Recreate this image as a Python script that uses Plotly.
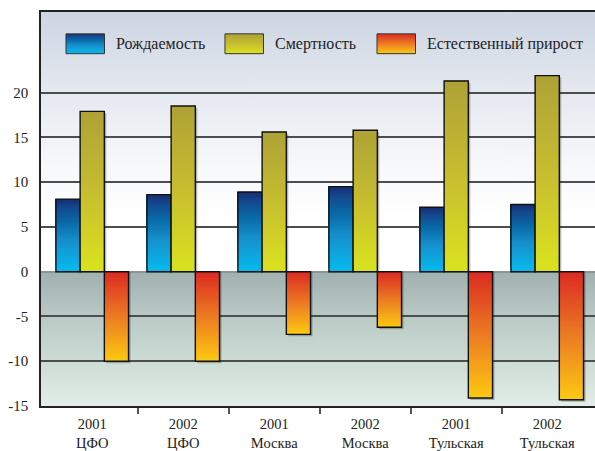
import base64
import plotly.graph_objects as go

# ---- data -------------------------------------------------------------
years = ["2001", "2002", "2001", "2002", "2001", "2002"]
regions = ["ЦФО", "ЦФО", "Москва", "Москва", "Тульская", "Тульская"]
series_names = ["Рождаемость", "Смертность", "Естественный прирост"]
births = [8.1, 8.6, 8.9, 9.5, 7.2, 7.5]
deaths = [17.9, 18.5, 15.6, 15.8, 21.3, 21.9]
natural_growth = [-10.0, -10.0, -7.0, -6.2, -14.1, -14.3]
y_ticks = [20, 15, 10, 5, 0, -5, -10, -15]
y_tick_text = ["20", "15", "10", "5", "0", "-5", "-10", "-15"]

# ---- styling ----------------------------------------------------------
FONT = "Liberation Serif"
N_SLICES = 70
BAR_W = 0.266
OFFSETS = [-0.266, 0.0, 0.266]
Y_RANGE = [-15, 29]
X_RANGE = [-0.563, 5.525]

# gradients: t=0 at the bar base (zero line), t=1 at the bar end
GRADIENTS = [
    [(0.0, "#05bcef"), (0.42, "#1690cc"), (0.68, "#0a6aa8"), (0.88, "#14498f"), (1.0, "#172e76")],
    [(0.0, "#dae31e"), (0.5, "#c7bd30"), (1.0, "#aea236")],
    [(0.0, "#dc2a22"), (0.5, "#ec7b22"), (1.0, "#fdc912")],
]


def hex_to_rgb(h):
    h = h.lstrip("#")
    return tuple(int(h[i:i + 2], 16) for i in (0, 2, 4))


def color_at(stops, t):
    for (t0, c0), (t1, c1) in zip(stops[:-1], stops[1:]):
        if t <= t1:
            f = 0 if t1 == t0 else (t - t0) / (t1 - t0)
            a, b = hex_to_rgb(c0), hex_to_rgb(c1)
            r = [round(a[i] + (b[i] - a[i]) * f) for i in range(3)]
            return "rgb(%d,%d,%d)" % tuple(r)
    return stops[-1][1]


def gradient_uri(stops):
    """Vertical gradient rectangle as an SVG data URI (offset 0 = top)."""
    parts = "".join(
        '<stop offset="%g" stop-color="%s"/>' % (o, c) for o, c in stops
    )
    svg = (
        '<svg xmlns="http://www.w3.org/2000/svg" width="100" height="100" '
        'preserveAspectRatio="none" viewBox="0 0 100 100">'
        '<defs><linearGradient id="g" x1="0" y1="0" x2="0" y2="1">%s'
        '</linearGradient></defs>'
        '<rect x="0" y="0" width="100" height="100" fill="url(#g)"/></svg>'
    ) % parts
    return "data:image/svg+xml;base64," + base64.b64encode(svg.encode()).decode()


fig = go.Figure()
all_series = [births, deaths, natural_growth]

for s, (values, stops, off) in enumerate(zip(all_series, GRADIENTS, OFFSETS)):
    xs = [i + off for i in range(len(values))]
    # soft drop shadow
    fig.add_trace(go.Bar(
        x=[x + 0.022 for x in xs], y=[v - 0.22 for v in values], base=[0] * len(values),
        width=BAR_W, marker=dict(color="rgba(40,40,40,0.30)", line=dict(width=0)),
        hoverinfo="skip", showlegend=False,
    ))
    # gradient fill built from overlapping slices
    for k in range(N_SLICES):
        t0 = k / N_SLICES
        fig.add_trace(go.Bar(
            x=xs, base=[v * t0 for v in values], y=[v * (1 - t0) for v in values],
            width=BAR_W,
            marker=dict(color=color_at(stops, (k + 0.5) / N_SLICES), line=dict(width=0)),
            hoverinfo="skip", showlegend=False,
        ))
    # outline
    fig.add_trace(go.Bar(
        x=xs, y=values, base=[0] * len(values), width=BAR_W, name=series_names[s],
        marker=dict(color="rgba(0,0,0,0)", line=dict(color="#111111", width=1.4)),
        showlegend=False,
    ))

# plot-area background gradients (above and below zero)
images = [
    dict(source=gradient_uri([(0, "#ccd5e2"), (0.31, "#e5e9f0"), (0.59, "#f7f8fa"),
                              (0.8, "#ffffff"), (1, "#ffffff")]),
         xref="x", yref="y", x=X_RANGE[0], y=Y_RANGE[1],
         sizex=X_RANGE[1] - X_RANGE[0], sizey=Y_RANGE[1],
         sizing="stretch", layer="below"),
    dict(source=gradient_uri([(0, "#a1b1b1"), (0.34, "#b9c9c5"), (0.67, "#cddcd5"),
                              (1, "#e2eee8")]),
         xref="x", yref="y", x=X_RANGE[0], y=0,
         sizex=X_RANGE[1] - X_RANGE[0], sizey=-Y_RANGE[0],
         sizing="stretch", layer="below"),
]

# custom legend: gradient swatches + labels (paper coordinates of the plot area)
# swatches show the bar-end colour on top, except the negative series,
# whose bars grow downwards, so its zero-side colour sits on top
legend_items = [
    (series_names[0], 0.0451, 0.1318, True),
    (series_names[1], 0.3321, 0.4188, True),
    (series_names[2], 0.6065, 0.6931, False),
]
SW_W, SW_H, SW_TOP, LEG_Y = 0.0695, 0.0504, 0.9446, 0.9194
annotations = []
shapes = []
for (name, sx, tx, flip), stops in zip(legend_items, GRADIENTS):
    top_down = [(1 - o, c) for o, c in reversed(stops)] if flip else list(stops)
    images.append(dict(source=gradient_uri(top_down), xref="paper", yref="paper",
                       x=sx, y=SW_TOP, sizex=SW_W, sizey=SW_H,
                       sizing="stretch", layer="above"))
    shapes.append(dict(type="rect", xref="paper", yref="paper",
                       x0=sx, x1=sx + SW_W, y0=SW_TOP - SW_H, y1=SW_TOP,
                       line=dict(color="#333333", width=1)))
    annotations.append(dict(text=name, xref="paper", yref="paper", x=tx, y=LEG_Y,
                            xanchor="left", yanchor="middle", showarrow=False,
                            font=dict(family=FONT, size=16, color="#222222")))

fig.update_layout(
    width=595, height=451,
    margin=dict(l=41, r=0, t=12, b=42),
    barmode="overlay",
    paper_bgcolor="white",
    plot_bgcolor="white",
    images=images,
    shapes=shapes,
    annotations=annotations,
    showlegend=False,
    font=dict(family=FONT, size=14, color="#222222"),
)

fig.update_xaxes(
    range=X_RANGE,
    tickmode="array",
    tickvals=list(range(len(years))),
    ticktext=[f"{y}<br>{r}" for y, r in zip(years, regions)],
    ticks="", ticklabelstandoff=4,
    tickfont=dict(family=FONT, size=14.5, color="#222222"),
    minor=dict(tickmode="array", tickvals=[i + 0.5 for i in range(len(years) - 1)],
               ticks="outside", ticklen=6, tickwidth=1.5, tickcolor="#555555",
               showgrid=False),
    showgrid=False, zeroline=False,
    showline=True, linecolor="#222222", linewidth=1.5, mirror=True,
)
fig.update_yaxes(
    range=Y_RANGE,
    tickmode="array", tickvals=y_ticks, ticktext=y_tick_text,
    ticks="", ticklabelstandoff=8,
    tickfont=dict(family=FONT, size=15, color="#222222"),
    showgrid=True, gridcolor="#4d4d4d", gridwidth=1.5,
    zeroline=True, zerolinecolor="#8a9696", zerolinewidth=1.5,
    showline=True, linecolor="#222222", linewidth=1.5,
)

fig.write_html("out.html")
